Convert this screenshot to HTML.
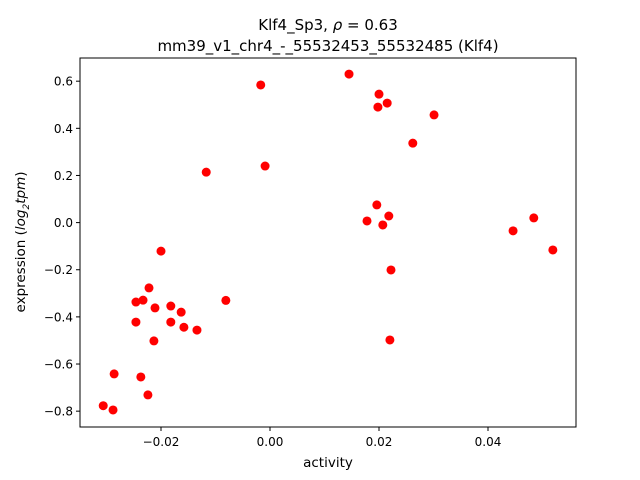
<!DOCTYPE html>
<html><head><meta charset="utf-8"><style>
body{margin:0;background:#fff}
svg{display:block;font-family:"DejaVu Sans","Liberation Sans",sans-serif}
</style></head><body>
<svg id="chart" width="640" height="480">
<rect width="640" height="480" fill="#fff"/>
<text x="328" y="30" text-anchor="middle" font-size="15">Klf4_Sp3, <tspan font-style="italic">ρ</tspan> = 0.63</text>
<text x="328" y="51" text-anchor="middle" font-size="15">mm39_v1_chr4_-_55532453_55532485 (Klf4)</text>
<g id="ticks"></g>
<g id="points"></g>
<rect x="80" y="58" width="496" height="369" fill="none" stroke="#000" stroke-width="1"/>
<text x="328" y="467" text-anchor="middle" font-size="13.5">activity</text>
<text transform="translate(25,242) rotate(-90)" text-anchor="middle" font-size="13.5">expression (<tspan font-style="italic">log</tspan><tspan font-size="9" dy="4" font-style="italic">2</tspan><tspan dy="-4" font-style="italic">tpm</tspan>)</text>
</svg>
<script>
const xVals=[-0.0306,-0.0288,-0.0286,-0.0246,-0.0246,-0.0237,-0.0233,-0.0224,-0.0222,-0.0213,-0.0211,-0.0200,-0.0182,-0.0182,-0.0163,-0.0158,-0.0134,-0.0117,-0.0081,-0.0017,-0.0009,0.0145,0.0178,0.0196,0.0198,0.0200,0.0207,0.0215,0.0218,0.0222,0.0220,0.0262,0.0301,0.0446,0.0484,0.0519];
const yVals=[-0.777,-0.795,-0.642,-0.337,-0.422,-0.655,-0.329,-0.731,-0.277,-0.502,-0.362,-0.121,-0.354,-0.422,-0.380,-0.444,-0.456,0.214,-0.330,0.584,0.240,0.630,0.007,0.075,0.490,0.545,-0.010,0.507,0.028,-0.201,-0.498,0.337,0.457,-0.035,0.020,-0.116];
const xTicks=[-0.02,0.00,0.02,0.04];
const xTickLabels=["−0.02","0.00","0.02","0.04"];
const yTicks=[-0.8,-0.6,-0.4,-0.2,0.0,0.2,0.4,0.6];
const yTickLabels=["−0.8","−0.6","−0.4","−0.2","0.0","0.2","0.4","0.6"];
const NS="http://www.w3.org/2000/svg";
const X=v=>270+v*5450;
const Y=v=>222.6-v*235.7;
const tg=document.getElementById('ticks');
function mk(t,a,p){const e=document.createElementNS(NS,t);for(const k in a)e.setAttribute(k,a[k]);p.appendChild(e);return e;}
xTicks.forEach((v,i)=>{
  const l=mk('line',{x1:X(v),x2:X(v),y1:427,y2:431,stroke:'#000'},tg);
  
  
  const t=mk('text',{x:X(v),y:446,'text-anchor':'middle','font-size':'12'},tg);
  t.textContent=xTickLabels[i];
  
  
});
yTicks.forEach((v,i)=>{
  const l=mk('line',{x1:76,x2:80,y1:Y(v),y2:Y(v),stroke:'#000'},tg);
  
  
  const t=mk('text',{x:73,y:Y(v)+4.5,'text-anchor':'end','font-size':'12'},tg);
  t.textContent=yTickLabels[i];
  
  
});
const pg=document.getElementById('points');
xVals.forEach((v,i)=>{
  const c=mk('circle',{cx:X(v),cy:Y(yVals[i]),r:4.5,fill:'#ff0000'},pg);
  
  
});
</script>
</body></html>
